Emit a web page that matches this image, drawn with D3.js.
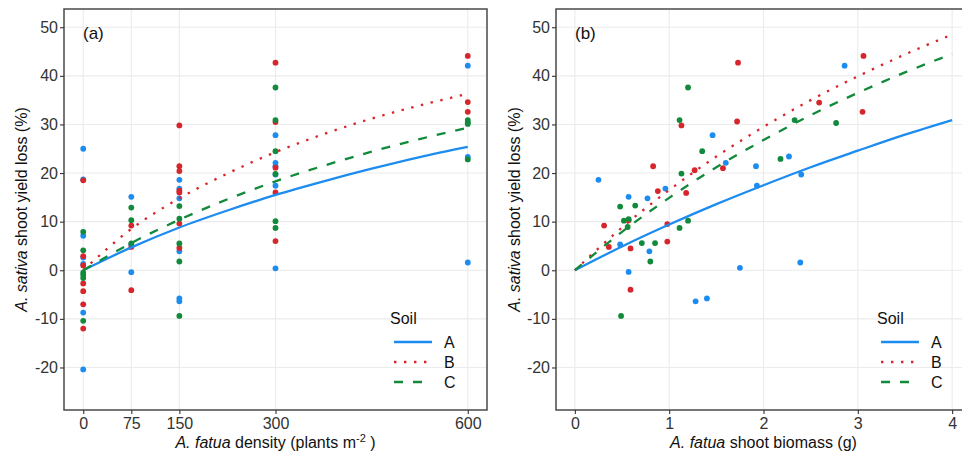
<!DOCTYPE html>
<html>
<head>
<meta charset="utf-8">
<script src="https://cdn.jsdelivr.net/npm/d3@7"></script>
<style>
    body { margin: 0; background: #fff; }
    svg text { font-family: "Liberation Sans", Arial, sans-serif; }
</style>
</head>
<body>
<div id="chart"></div>
<script>

// ---- data ----

const soils = ["A", "B", "C"];
const yTicks = [-20, -10, 0, 10, 20, 30, 40, 50];
const densityTicks = [0, 75, 150, 300, 600];
const biomassTicks = [0, 1, 2, 3, 4];

// panel (a): [density (plants m-2), yield loss (%)]
const densityA = [
    [0, 25.0], [0, 18.7], [0, 7.1], [0, 2.6], [0, 1.3], [0, -8.7], [0, -20.4],
    [75, 15.1], [75, 5.3], [75, -0.4],
    [150, 18.6], [150, 16.8], [150, 14.8], [150, 3.9], [150, -5.8], [150, -6.4],
    [300, 27.8], [300, 22.1], [300, 21.4], [300, 19.7], [300, 17.4], [300, 0.4],
    [600, 42.1], [600, 23.3], [600, 1.6]
];
const densityB = [
    [0, 18.5], [0, 2.9], [0, 1.0], [0, -2.7], [0, -4.3], [0, -7.0], [0, -12.0],
    [75, 9.2], [75, 4.8], [75, -4.1],
    [150, 29.8], [150, 21.4], [150, 20.4], [150, 16.4], [150, 16.0], [150, 9.6], [150, 4.6],
    [300, 42.7], [300, 30.5], [300, 21.1], [300, 16.0], [300, 6.0],
    [600, 44.1], [600, 34.6], [600, 32.6]
];
const densityC = [
    [0, 7.9], [0, 4.1], [0, -0.5], [0, -1.0], [0, -1.6], [0, -10.4],
    [75, 12.9], [75, 10.3], [75, 5.5],
    [150, 13.2], [150, 10.6], [150, 5.5], [150, 1.8], [150, -9.4],
    [300, 37.6], [300, 30.9], [300, 24.5], [300, 19.8], [300, 10.1], [300, 8.7],
    [600, 30.9], [600, 30.4], [600, 30.1], [600, 22.8]
];

// panel (b): [shoot biomass (g), yield loss (%)]
const biomassA = [
    [0.25, 18.6], [0.57, 15.1], [0.77, 14.8], [0.96, 16.8], [1.46, 27.8], [1.60, 22.1],
    [0.48, 5.3], [0.79, 3.9], [0.57, -0.35], [1.28, -6.4], [1.40, -5.8], [1.92, 21.4],
    [1.93, 17.4], [2.27, 23.4], [2.40, 19.7], [2.86, 42.1], [1.75, 0.5], [2.39, 1.6]
];
const biomassB = [
    [1.13, 29.8], [0.83, 21.4], [1.27, 20.6], [1.57, 21.0], [0.88, 16.3], [1.18, 15.9],
    [0.31, 9.2], [0.98, 9.5], [0.36, 4.8], [0.59, 4.5], [0.98, 5.9], [0.59, -4.0],
    [0.57, 10.3], [1.73, 42.7], [3.06, 44.1], [1.72, 30.6], [2.59, 34.5], [3.05, 32.6]
];
const biomassC = [
    [1.20, 37.6], [1.11, 30.9], [1.35, 24.5], [1.13, 19.9], [0.48, 13.1], [0.64, 13.3],
    [0.52, 10.2], [0.57, 10.5], [0.56, 8.9], [1.20, 10.2], [1.11, 8.7], [0.71, 5.6],
    [0.85, 5.6], [0.80, 1.8], [0.49, -9.4], [2.33, 30.9], [2.77, 30.3], [2.18, 22.9]
];

// fitted curves, read at regular steps
const densityFitX = [0, 75, 150, 225, 300, 375, 450, 525, 600];
const densityFitA = [0, 4.7, 8.8, 12.3, 15.5, 18.3, 20.9, 23.3, 25.4];
const densityFitB = [0, 8.5, 14.8, 19.9, 24.3, 28.0, 31.2, 33.9, 36.3];
const densityFitC = [0, 5.6, 10.4, 14.6, 18.3, 21.5, 24.4, 27.0, 29.3];

const biomassFitX = [0, 0.5, 1, 1.5, 2, 2.5, 3, 3.5, 4];
const biomassFitA = [0, 4.9, 9.4, 13.6, 17.5, 21.2, 24.6, 27.9, 30.9];
const biomassFitB = [0, 8.8, 16.5, 23.4, 29.5, 35.0, 39.9, 44.4, 48.5];
const biomassFitC = [0, 7.9, 14.9, 21.2, 26.8, 31.9, 36.5, 40.7, 44.5];


// ---- styling ----

const soilColor = {A: "#1c8cf0", B: "#d7262b", C: "#128a3c"};
const soilDash = {A: null, B: "2.4,7.6", C: "9,10"};

const width = 962, height = 460;

const svg = d3.select("#chart").append("svg")
    .attr("width", width)
    .attr("height", height);

function drawPanel(opt) {

    let x = d3.scaleLinear().domain(opt.xDomain).range([opt.left, opt.right]);
    let y = d3.scaleLinear().domain([-28.75, 53.75]).range([410, 9]);

    let g = svg.append("g");

    // grid
    g.selectAll(".hgrid").data(yTicks).enter().append("line")
        .attr("x1", opt.left).attr("x2", opt.right)
        .attr("y1", d => y(d)).attr("y2", d => y(d))
        .attr("stroke", "#ebebeb").attr("stroke-width", 1.1);

    g.selectAll(".vgrid").data(opt.xTicks).enter().append("line")
        .attr("x1", d => x(d)).attr("x2", d => x(d))
        .attr("y1", 9).attr("y2", 410)
        .attr("stroke", "#ebebeb").attr("stroke-width", 1.1);

    // points
    soils.forEach((s, i) => {
        g.selectAll(".pt" + s).data(opt.points[i]).enter().append("circle")
            .attr("cx", d => x(d[0]))
            .attr("cy", d => y(d[1]))
            .attr("r", 2.9)
            .attr("fill", soilColor[s]);
    });

    // fitted lines
    let line = d3.line()
        .x(d => x(d[0]))
        .y(d => y(d[1]))
        .curve(d3.curveMonotoneX);

    soils.forEach((s, i) => {
        let pts = opt.fitX.map((v, j) => [v, opt.fits[i][j]]);
        g.append("path")
            .datum(pts)
            .attr("d", line)
            .attr("fill", "none")
            .attr("stroke", soilColor[s])
            .attr("stroke-width", 2.3)
            .attr("stroke-dasharray", soilDash[s]);
    });

    // border
    g.append("rect")
        .attr("x", opt.left).attr("y", 9)
        .attr("width", opt.right - opt.left).attr("height", 401)
        .attr("fill", "none")
        .attr("stroke", "#4a4a4a")
        .attr("stroke-width", 1.5);

    // axes
    let yAxis = g.append("g")
        .attr("transform", `translate(${opt.left},0)`)
        .call(d3.axisLeft(y).tickValues(yTicks).tickFormat(d => String(d))
            .tickSize(4).tickPadding(2));

    let xAxis = g.append("g")
        .attr("transform", "translate(0,410)")
        .call(d3.axisBottom(x).tickValues(opt.xTicks).tickFormat(d => String(d))
            .tickSize(4).tickPadding(4));

    [yAxis, xAxis].forEach(a => {
        a.select(".domain").remove();
        a.selectAll(".tick line").attr("stroke", "#333").attr("stroke-width", 1.1);
        a.selectAll(".tick text")
            .attr("fill", "#333")
            .attr("font-size", "16px")
            .attr("font-family", "Liberation Sans, Arial, sans-serif");
    });

    // y title
    let yt = g.append("text")
        .attr("transform", `translate(${opt.yTitleX},209.5) rotate(-90)`)
        .attr("text-anchor", "middle")
        .attr("font-size", "16px")
        .attr("fill", "#111");
    yt.append("tspan").attr("font-style", "italic").text("A. sativa");
    yt.append("tspan").text(" shoot yield loss (%)");

    // x title
    let xt = g.append("text")
        .attr("x", (opt.left + opt.right) / 2)
        .attr("y", 447.5)
        .attr("text-anchor", "middle")
        .attr("font-size", "16px")
        .attr("fill", "#111");
    xt.append("tspan").attr("font-style", "italic").text("A. fatua");
    opt.xTitle(xt);

    // panel tag
    g.append("text")
        .attr("x", opt.tagX).attr("y", 39)
        .attr("font-size", "17px")
        .attr("fill", "#111")
        .text(opt.tag);

    // legend
    let lg = g.append("g").attr("transform", `translate(${opt.legendX},0)`);
    lg.append("text")
        .attr("x", 0).attr("y", 324)
        .attr("font-size", "16px")
        .attr("fill", "#111")
        .text("Soil");

    let rows = lg.selectAll(".row").data(soils).enter().append("g")
        .attr("transform", (d, i) => `translate(0,${342 + i * 20})`);

    rows.append("line")
        .attr("x1", 4).attr("x2", 42)
        .attr("stroke", d => soilColor[d])
        .attr("stroke-width", 2.3)
        .attr("stroke-dasharray", d => soilDash[d]);

    rows.append("text")
        .attr("x", 54).attr("y", 6)
        .attr("font-size", "16px")
        .attr("fill", "#111")
        .text(d => d);
}

drawPanel({
    left: 64, right: 487,
    xDomain: [-30, 630],
    xTicks: densityTicks,
    points: [densityA, densityB, densityC],
    fitX: densityFitX,
    fits: [densityFitA, densityFitB, densityFitC],
    yTitleX: 27,
    tagX: 83,
    tag: "(a)",
    legendX: 390,
    xTitle: t => {
        t.append("tspan").text(" density (plants m");
        t.append("tspan").attr("dy", -6).attr("font-size", "11px").text("-2");
        t.append("tspan").attr("dy", 6).text(" )");
    }
});

drawPanel({
    left: 556, right: 971,
    xDomain: [-0.2, 4.2],
    xTicks: biomassTicks,
    points: [biomassA, biomassB, biomassC],
    fitX: biomassFitX,
    fits: [biomassFitA, biomassFitB, biomassFitC],
    yTitleX: 520,
    tagX: 575,
    tag: "(b)",
    legendX: 877,
    xTitle: t => {
        t.append("tspan").text(" shoot biomass (g)");
    }
});

</script>
</body>
</html>
